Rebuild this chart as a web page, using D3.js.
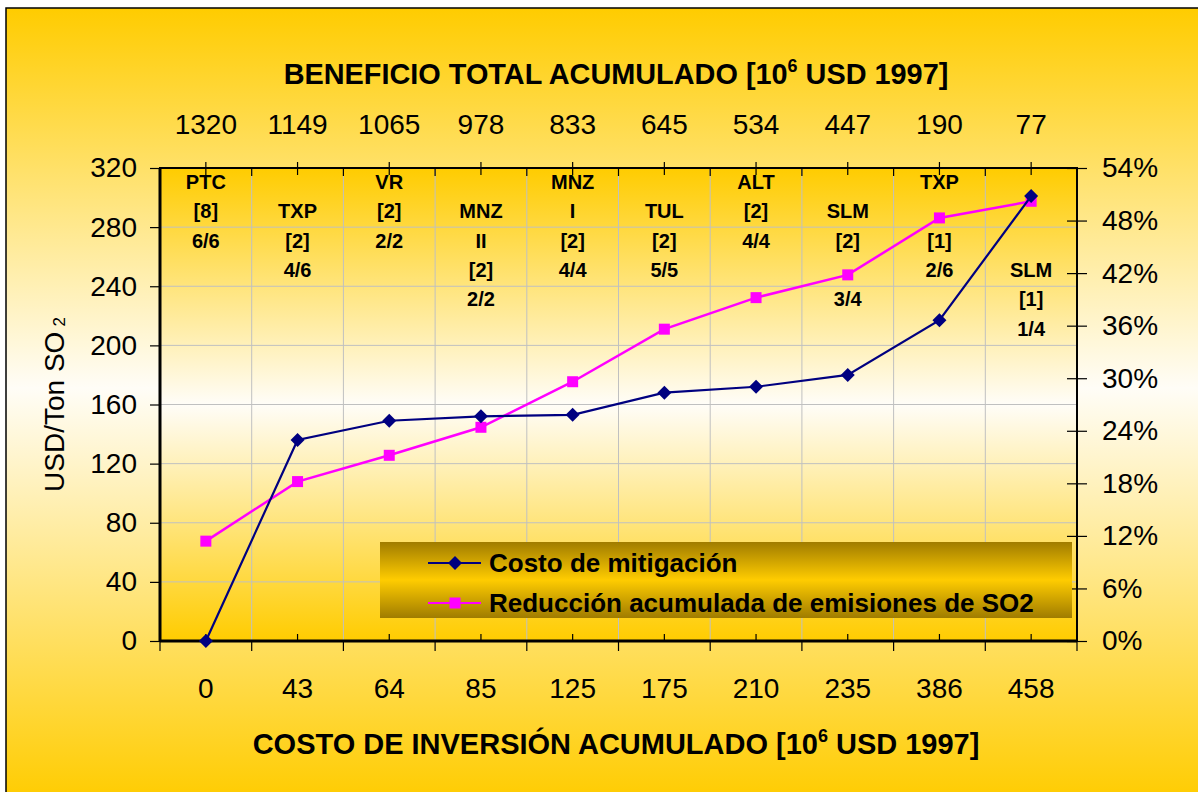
<!DOCTYPE html>
<html>
<head>
<meta charset="utf-8">
<script src="https://cdn.jsdelivr.net/npm/d3@7"></script>
<style>
  body { margin: 0; background: #ffffff; }
  svg { display: block; font-family: "Liberation Sans", Arial, sans-serif; }
</style>
</head>
<body>
<svg id="chart" width="1198" height="792"></svg>
<script>
// Cumulative investment cost (bottom axis categories, 10^6 USD 1997)
const categories = ["0", "43", "64", "85", "125", "175", "210", "235", "386", "458"];
// Cumulative total benefit (top axis labels, 10^6 USD 1997)
const benefitLabels = ["1320", "1149", "1065", "978", "833", "645", "534", "447", "190", "77"];
// Mitigation cost, USD/Ton SO2 (left axis)
const mitigationCost = [0, 136, 149, 152, 153, 168, 172, 180, 217, 301];
// Cumulative SO2 emission reduction, % (right axis)
const emissionReduction = [11.4, 18.2, 21.2, 24.4, 29.6, 35.6, 39.2, 41.8, 48.3, 50.2];
// Plant / unit annotations per category, one entry per text row (blank rows keep spacing)
const plantLabels = [
  ["PTC", "[8]", "6/6"],
  ["", "TXP", "[2]", "4/6"],
  ["VR", "[2]", "2/2"],
  ["", "MNZ", "II", "[2]", "2/2"],
  ["MNZ", "I", "[2]", "4/4"],
  ["", "TUL", "[2]", "5/5"],
  ["ALT", "[2]", "4/4"],
  ["", "SLM", "[2]", "", "3/4"],
  ["TXP", "", "[1]", "2/6"],
  ["", "", "", "SLM", "[1]", "1/4"]
];
const leftTicks = [0, 40, 80, 120, 160, 200, 240, 280, 320];
const rightTicks = [0, 6, 12, 18, 24, 30, 36, 42, 48, 54];
const seriesNames = ["Costo de mitigación", "Reducción acumulada de emisiones de SO2"];

const svg = d3.select("#chart");
const W = 1198, H = 792;
const plot = { left: 160, right: 1077, top: 168, bottom: 641 };

// ---------- gradients ----------
const defs = svg.append("defs");
function vGrad(id, stops) {
  const g = defs.append("linearGradient").attr("id", id)
    .attr("x1", 0).attr("y1", 0).attr("x2", 0).attr("y2", 1);
  stops.forEach(([o, c]) => g.append("stop").attr("offset", o).attr("stop-color", c));
}
vGrad("bgGrad", [["0%", "#FFCC00"], ["48%", "#FFFDF7"], ["100%", "#FFCC00"]]);
vGrad("plotGrad", [["0%", "#FFCC00"], ["50%", "#FFFDF8"], ["100%", "#FFCC00"]]);
vGrad("legendGrad", [["0%", "#A07C00"], ["50%", "#FFCC00"], ["100%", "#A07C00"]]);

// ---------- chart area ----------
svg.append("rect").attr("x", 6).attr("y", 8).attr("width", W).attr("height", H)
  .attr("fill", "url(#bgGrad)").attr("stroke", "#000").attr("stroke-width", 1.5);

// ---------- scales ----------
const x = d3.scaleBand().domain(categories).range([plot.left, plot.right]).padding(0);
const bw = x.bandwidth();
const cx = c => x(c) + bw / 2;
const yL = d3.scaleLinear().domain([0, 320]).range([plot.bottom, plot.top]);
const yR = d3.scaleLinear().domain([0, 54]).range([plot.bottom, plot.top]);

// ---------- plot area ----------
svg.append("rect")
  .attr("x", plot.left).attr("y", plot.top)
  .attr("width", plot.right - plot.left).attr("height", plot.bottom - plot.top)
  .attr("fill", "url(#plotGrad)");

// gridlines
const grid = svg.append("g").attr("stroke", "#C0C0C0").attr("stroke-width", 1);
grid.selectAll("line.h").data(leftTicks.filter(v => v > 0 && v < 320)).join("line")
  .attr("x1", plot.left).attr("x2", plot.right)
  .attr("y1", d => yL(d)).attr("y2", d => yL(d));
grid.selectAll("line.v").data(categories.slice(1)).join("line")
  .attr("x1", d => x(d)).attr("x2", d => x(d))
  .attr("y1", plot.top).attr("y2", plot.bottom);

// plot frame
svg.append("rect")
  .attr("x", plot.left).attr("y", plot.top)
  .attr("width", plot.right - plot.left).attr("height", plot.bottom - plot.top)
  .attr("fill", "none").attr("stroke", "#000").attr("stroke-width", 2);
svg.append("line").attr("x1", plot.left).attr("x2", plot.left)
  .attr("y1", plot.top).attr("y2", plot.bottom).attr("stroke", "#000").attr("stroke-width", 3);
svg.append("line").attr("x1", plot.left).attr("x2", plot.right)
  .attr("y1", plot.bottom).attr("y2", plot.bottom).attr("stroke", "#000").attr("stroke-width", 3);

// ---------- axes ----------
const tickFont = 28;
function styleAxis(g) {
  g.select(".domain").remove();
  g.selectAll(".tick line").attr("stroke", "#000").attr("stroke-width", 1.2);
  g.selectAll(".tick text").attr("font-size", tickFont).attr("fill", "#000")
    .attr("font-family", "'Liberation Sans', Arial, sans-serif");
}

// left axis
svg.append("g").attr("transform", `translate(${plot.left},0)`)
  .call(d3.axisLeft(yL).tickValues(leftTicks).tickSize(10).tickPadding(13))
  .call(styleAxis);

// right axis (ticks cross the frame)
const gR = svg.append("g").attr("transform", `translate(${plot.right},0)`)
  .call(d3.axisRight(yR).tickValues(rightTicks).tickFormat(d => d + "%").tickSize(10).tickPadding(15))
  .call(styleAxis);
gR.selectAll(".tick line").attr("x1", -10);

// bottom axis labels
const gB = svg.append("g").attr("transform", `translate(0,${plot.bottom})`)
  .call(d3.axisBottom(x).tickSize(0).tickPadding(37))
  .call(styleAxis);
gB.selectAll(".tick line").remove();
// bottom ticks: boundaries outward, centers inward
svg.append("g").selectAll("line").data(categories.concat(["end"])).join("line")
  .attr("x1", (d, i) => i < categories.length ? x(d) : plot.right)
  .attr("x2", (d, i) => i < categories.length ? x(d) : plot.right)
  .attr("y1", plot.bottom).attr("y2", plot.bottom + 10)
  .attr("stroke", "#000").attr("stroke-width", 1.2);
svg.append("g").selectAll("line").data(categories).join("line")
  .attr("x1", d => cx(d)).attr("x2", d => cx(d))
  .attr("y1", plot.bottom - 7).attr("y2", plot.bottom)
  .attr("stroke", "#000").attr("stroke-width", 1.2);

// top axis labels (cumulative benefit)
const xTop = d3.scaleBand().domain(benefitLabels).range([plot.left, plot.right]).padding(0);
const gT = svg.append("g").attr("transform", `translate(0,${plot.top})`)
  .call(d3.axisTop(xTop).tickSize(0).tickPadding(34))
  .call(styleAxis);
gT.selectAll(".tick line").remove();
// top ticks: centers cross the frame, boundaries inward
svg.append("g").selectAll("line").data(benefitLabels).join("line")
  .attr("x1", d => xTop(d) + bw / 2).attr("x2", d => xTop(d) + bw / 2)
  .attr("y1", plot.top - 6).attr("y2", plot.top + 7)
  .attr("stroke", "#000").attr("stroke-width", 1.2);
svg.append("g").selectAll("line").data(benefitLabels.slice(1)).join("line")
  .attr("x1", d => xTop(d)).attr("x2", d => xTop(d))
  .attr("y1", plot.top).attr("y2", plot.top + 8)
  .attr("stroke", "#000").attr("stroke-width", 1.2);

// ---------- titles ----------
function titleWithSup(y, before, sup, after, targetWidth) {
  const t = svg.append("text").attr("x", 616).attr("y", y)
    .attr("text-anchor", "middle").attr("font-size", 29).attr("font-weight", "bold").attr("fill", "#000");
  t.append("tspan").text(before);
  t.append("tspan").attr("font-size", 18).attr("dy", -12).text(sup);
  t.append("tspan").attr("dy", 12).text(after);
  const w = t.node().getBBox().width;
  const s = targetWidth / w;
  t.attr("transform", `translate(616,0) scale(${s},1) translate(-616,0)`);
  return t;
}
titleWithSup(84, "BENEFICIO TOTAL ACUMULADO [10", "6", " USD 1997]", 665);
titleWithSup(754, "COSTO DE INVERSIÓN ACUMULADO [10", "6", " USD 1997]", 727);

// left axis title
const yt = svg.append("text")
  .attr("transform", `translate(64,${(plot.top + plot.bottom) / 2}) rotate(-90)`)
  .attr("text-anchor", "middle").attr("font-size", 28).attr("fill", "#000");
yt.append("tspan").text("USD/Ton SO");
yt.append("tspan").attr("font-size", 17).attr("dx", 5).attr("dy", 1).text("2");

// ---------- plant annotations ----------
const annot = svg.append("g").attr("font-size", 20).attr("font-weight", "bold")
  .attr("text-anchor", "middle").attr("fill", "#000");
plantLabels.forEach((rows, i) => {
  rows.forEach((txt, k) => {
    if (!txt) return;
    annot.append("text")
      .attr("x", cx(categories[i]))
      .attr("y", 182 + k * 29.3 + 7)
      .text(txt);
  });
});

// ---------- series ----------
const diamond = r => `M0,${-r}L${r},0L0,${r}L${-r},0Z`;
const lineL = d3.line().x((d, i) => cx(categories[i])).y(d => yL(d));
const lineR = d3.line().x((d, i) => cx(categories[i])).y(d => yR(d));

svg.append("path").datum(emissionReduction).attr("d", lineR)
  .attr("fill", "none").attr("stroke", "#FF00FF").attr("stroke-width", 2.5);
svg.append("g").selectAll("rect").data(emissionReduction).join("rect")
  .attr("x", (d, i) => cx(categories[i]) - 5.5).attr("y", d => yR(d) - 5.5)
  .attr("width", 11).attr("height", 11).attr("fill", "#FF00FF");

svg.append("path").datum(mitigationCost).attr("d", lineL)
  .attr("fill", "none").attr("stroke", "#000080").attr("stroke-width", 2.2);
svg.append("g").selectAll("path").data(mitigationCost).join("path")
  .attr("transform", (d, i) => `translate(${cx(categories[i])},${yL(d)})`)
  .attr("d", diamond(7)).attr("fill", "#000080");

// ---------- legend ----------
const lg = svg.append("g");
lg.append("rect").attr("x", 380).attr("y", 542).attr("width", 692).attr("height", 76)
  .attr("fill", "url(#legendGrad)");
const rowsY = [563, 603];
const colors = ["#000080", "#FF00FF"];
seriesNames.forEach((name, i) => {
  lg.append("line").attr("x1", 428).attr("x2", 481).attr("y1", rowsY[i]).attr("y2", rowsY[i])
    .attr("stroke", colors[i]).attr("stroke-width", 2.2);
  if (i === 0) {
    lg.append("path").attr("transform", `translate(455,${rowsY[i]})`).attr("d", diamond(7)).attr("fill", colors[i]);
  } else {
    lg.append("rect").attr("x", 449.5).attr("y", rowsY[i] - 5.5).attr("width", 11).attr("height", 11).attr("fill", colors[i]);
  }
  lg.append("text").attr("x", 489).attr("y", rowsY[i] + 9)
    .attr("font-size", 26).attr("font-weight", "bold").attr("fill", "#000").text(name);
});
</script>
</body>
</html>
